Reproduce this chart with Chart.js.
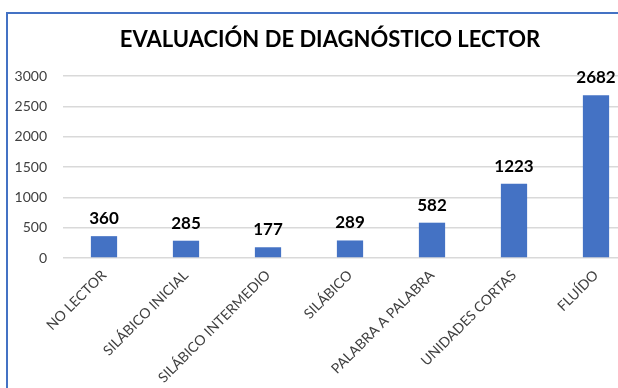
<!DOCTYPE html>
<html>
<head>
<meta charset="utf-8">
<script src="https://cdn.jsdelivr.net/npm/chart.js@4"></script>
<style>
  body { margin: 0; background: #fff; overflow: hidden; width: 618px; height: 388px; position: relative; }
  #wrap { position: absolute; left: 0; top: 0; width: 660px; height: 388px; }
  #frame { position: absolute; left: 6px; top: 12px; width: 700px; height: 500px; border: 2px solid #4472c4; pointer-events: none; }
</style>
</head>
<body>
<div id="wrap"><canvas id="graphic"></canvas></div>
<div id="frame"></div>
<script>
const chartTitle = 'EVALUACIÓN DE DIAGNÓSTICO LECTOR';
const categories = ['NO LECTOR', 'SILÁBICO INICIAL', 'SILÁBICO INTERMEDIO', 'SILÁBICO', 'PALABRA A PALABRA', 'UNIDADES CORTAS', 'FLUÍDO'];
const students = [360, 285, 177, 289, 582, 1223, 2682];
const yTicks = [0, 500, 1000, 1500, 2000, 2500, 3000];

// value on top of every bar, plus the heading centred on the frame
const barLabels = {
  id: 'barLabels',
  afterDatasetsDraw(chart) {
    const { ctx } = chart;
    ctx.save();
    ctx.fillStyle = '#000';
    ctx.textAlign = 'center';
    ctx.textBaseline = 'middle';
    ctx.font = 'bold 22px Lato';
    ctx.fillText(chartTitle, 330, 40);
    ctx.font = 'bold 17px Lato';
    ctx.textBaseline = 'bottom';
    chart.getDatasetMeta(0).data.forEach((bar, i) => {
      ctx.fillText(String(students[i]), bar.x, bar.y - 9);
    });
    ctx.restore();
  },
};

const ctx = document.querySelector('#graphic').getContext('2d');
const graphic = new Chart(ctx, {
  type: 'bar',
  data: {
    labels: categories,
    datasets: [{
      data: students,
      backgroundColor: '#4472c4',
      borderWidth: 0,
      barPercentage: 0.32,
      categoryPercentage: 1,
    }],
  },
  options: {
    responsive: true,
    maintainAspectRatio: false,
    animation: false,
    layout: { padding: { left: 0, right: 23, top: 76, bottom: 0 } },
    plugins: {
      legend: { display: false },
      tooltip: { enabled: false },
      title: { display: false },
    },
    scales: {
      x: {
        grid: { display: false, drawTicks: false },
        border: { display: false },
        ticks: {
          color: '#404040',
          font: { family: 'Lato', size: 14 },
          minRotation: 45,
          maxRotation: 45,
          padding: 9,
          autoSkip: false,
        },
        afterFit(scale) { scale.height = 130; },
      },
      y: {
        min: 0,
        max: 3000,
        afterBuildTicks(scale) { scale.ticks = yTicks.map((v) => ({ value: v })); },
        grid: { color: '#d9d9d9', lineWidth: 1.5, drawTicks: false },
        border: { display: false },
        ticks: {
          color: '#404040',
          font: { family: 'Lato', size: 14 },
          padding: 16,
          callback: (value) => String(value),
        },
        afterFit(scale) { scale.width = 63; },
      },
    },
  },
  plugins: [barLabels],
});
graphic.render();
</script>
</body>
</html>
